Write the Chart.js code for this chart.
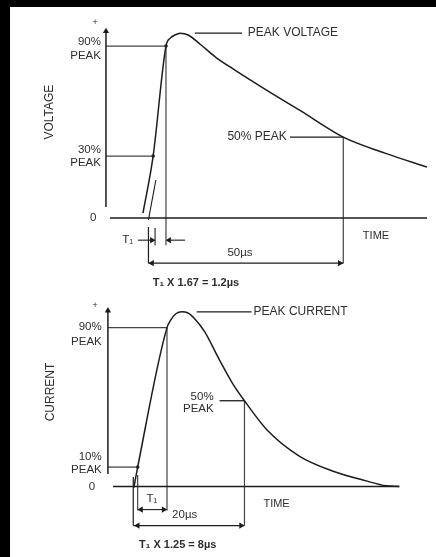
<!DOCTYPE html>
<html>
<head>
<meta charset="utf-8">
<script src="https://cdn.jsdelivr.net/npm/chart.js@4.4.1/dist/chart.umd.min.js"></script>
<style>
html, body { margin: 0; padding: 0; background: #000; }
#sheet { position: absolute; left: 10px; top: 7px; width: 426px; height: 550px; background: #fff; }
#volt { position: absolute; left: 0; top: 0; }
#curr { position: absolute; left: 0; top: 290px; }
</style>
</head>
<body>
<div id="sheet"></div>
<canvas id="volt" width="436" height="292"></canvas>
<canvas id="curr" width="436" height="267"></canvas>
<script>
// voltage surge (1.2/50us), time in us, level in % of drawn peak
const voltTime  = [-1.4, 1.2, 4.5, 5.6, 6.8, 8.1, 10.2, 13.2, 17.2, 21.9, 30.4, 38.9, 50.0, 60.7, 71.5];
const voltLevel = [2.7, 33.7, 93.5, 97.8, 99.5, 100.5, 99.5, 94.6, 87.5, 80.8, 69.4, 58.5, 44.0, 35.3, 27.7];
const voltMarkNames  = ['90%', '30%', '50%'];
const voltMarkTimes  = [4.5, 1.2, 50];
const voltMarkLevels = [93.5, 33.7, 44];

// current surge (8/20us)
const currTime  = [0.1, 0.8, 6.1, 6.8, 7.7, 8.8, 9.8, 11.1, 12.9, 15.6, 17.8, 20.1, 24.1, 30.0, 36.0, 42.1, 45.7, 48.1];
const currLevel = [-0.7, 11.1, 90.8, 95.2, 98.7, 99.8, 99.3, 95.9, 88.5, 72.2, 59.7, 49.0, 32.6, 17.4, 8.9, 3.2, 0.4, 0];
const currMarkNames  = ['90%', '10%', '50%'];
const currMarkTimes  = [6.1, 0.8, 20.1];
const currMarkLevels = [90.8, 11.1, 49];

const ink = '#1c1c1c';
const textInk = '#2e2e2e';
const FONT = '"Liberation Sans", Arial, "DejaVu Sans", sans-serif';

function seg(xs, ys, w, col) {
  return {
    type: 'line',
    data: xs.map((x, i) => ({ x: x, y: ys[i] })),
    borderColor: col || ink, borderWidth: w || 1.2,
    pointRadius: 0, fill: false, tension: 0
  };
}
function arrow(x, y, rot) {
  return {
    type: 'line', showLine: false,
    data: [{ x: x, y: y }],
    pointStyle: 'triangle', pointRotation: rot, pointRadius: 3.6,
    pointBackgroundColor: ink, pointBorderColor: ink, pointBorderWidth: 0
  };
}
function dots(xs, ys) {
  return {
    type: 'line', showLine: false,
    data: xs.map((x, i) => ({ x: x, y: ys[i] })),
    pointRadius: 1.8, pointBackgroundColor: ink, pointBorderWidth: 0
  };
}
function curve(xs, ys) {
  return {
    type: 'line',
    data: xs.map((x, i) => ({ x: x, y: ys[i] })),
    borderColor: ink, borderWidth: 1.5, pointRadius: 0, fill: false,
    cubicInterpolationMode: 'monotone'
  };
}

function notes(items) {
  return {
    id: 'notes',
    afterDatasetsDraw(chart) {
      const ctx = chart.ctx, xs = chart.scales.x, ys = chart.scales.y;
      ctx.save();
      ctx.fillStyle = textInk;
      ctx.textBaseline = 'middle';
      items.forEach(n => {
        ctx.font = (n.bold ? 'bold ' : '') + (n.size || 11.5) + 'px ' + FONT;
        ctx.textAlign = n.align || 'left';
        const px = xs.getPixelForValue(n.t), py = ys.getPixelForValue(n.v);
        if (n.rot) {
          ctx.save();
          ctx.translate(px, py);
          ctx.rotate(-Math.PI / 2);
          ctx.textAlign = 'center';
          ctx.fillText(n.text, 0, 0);
          ctx.restore();
        } else {
          ctx.fillText(n.text, px, py);
        }
      });
      ctx.restore();
    }
  };
}

function build(id, datasets, xr, yr, pad, items) {
  return new Chart(document.getElementById(id), {
    type: 'line',
    data: { datasets: datasets },
    options: {
      responsive: false,
      animation: false,
      layout: { padding: pad },
      scales: {
        x: { type: 'linear', min: xr[0], max: xr[1], display: false },
        y: { type: 'linear', min: yr[0], max: yr[1], display: false }
      },
      plugins: { legend: { display: false }, tooltip: { enabled: false } }
    },
    plugins: [notes(items)]
  });
}

// ---- voltage ----
const vAx = -10.9;
const vPeak = Math.max(...voltLevel);
const vDim = -24.5;
build('volt', [
  seg([vAx, vAx], [6, 102], 1.5),
  arrow(vAx, 101.5, 0),
  seg([-9.9, 71.5], [0, 0], 1.5),
  curve(voltTime, voltLevel),
  seg([vAx, voltMarkTimes[0]], [voltMarkLevels[0], voltMarkLevels[0]], 1.3, '#444'),
  seg([vAx, voltMarkTimes[1]], [voltMarkLevels[1], voltMarkLevels[1]], 1.3, '#444'),
  seg([36.3, voltMarkTimes[2]], [voltMarkLevels[2], voltMarkLevels[2]], 1.3),
  seg([11.9, 24.0], [vPeak, vPeak], 1.3),
  seg([voltMarkTimes[0], voltMarkTimes[0]], [voltMarkLevels[0], -14.7], 1.2, '#444'),
  seg([voltMarkTimes[2], voltMarkTimes[2]], [voltMarkLevels[2], vDim], 1.2, '#444'),
  seg([0, 0], [-4.9, vDim], 1.2),
  seg([0, 50], [vDim, vDim], 1.2),
  arrow(0.9, vDim, -90),
  arrow(49.1, vDim, 90),
  seg([1.7, 1.7], [-5.4, -14.7], 1.1),
  seg([-2.7, 1.0], [-12, -12], 1.1),
  arrow(0.9, -12, 90),
  seg([9.4, 5.3], [-12, -12], 1.1),
  arrow(5.3, -12, -90),
  seg([0, 1.9], [-1, 20.7], 1.1),
  dots([voltMarkTimes[0], voltMarkTimes[1]], [voltMarkLevels[0], voltMarkLevels[1]])
], [-15, 72], [-38, 112], { left: 90, right: 7, top: 12, bottom: 4 }, [
  { t: -13.7, v: 106.5, text: '+', align: 'center', size: 9 },
  { t: -12.2, v: 95.7, text: voltMarkNames[0], align: 'right' },
  { t: -12.2, v: 88, text: 'PEAK', align: 'right' },
  { t: -12.2, v: 37, text: voltMarkNames[1], align: 'right' },
  { t: -12.2, v: 29.9, text: 'PEAK', align: 'right' },
  { t: -14.2, v: 0, text: '0', align: 'center' },
  { t: -25.3, v: 57.6, text: 'VOLTAGE', rot: true, size: 12 },
  { t: 25.5, v: vPeak, text: 'PEAK VOLTAGE', size: 12 },
  { t: 35.5, v: 44, text: voltMarkNames[2] + ' PEAK', align: 'right', size: 12 },
  { t: -3.9, v: -12, text: 'T₁', align: 'right' },
  { t: 23.5, v: -19, text: '50µs', align: 'center' },
  { t: 58.4, v: -9.8, text: 'TIME', align: 'center', size: 11 },
  { t: 12.2, v: -35.3, text: 'T₁ X 1.67 = 1.2µs', align: 'center', bold: true, size: 11 }
]);

// ---- current ----
const cAx = -4.58;
const cPeak = Math.max(...currLevel);
const cDim = -22.3;
build('curr', [
  seg([cAx, cAx], [7.2, 100.5], 1.5),
  arrow(cAx, 100.5, 0),
  seg([-3.67, 48.06], [0, 0], 1.5),
  curve(currTime, currLevel),
  seg([cAx, currMarkTimes[0]], [currMarkLevels[0], currMarkLevels[0]], 1.3, '#444'),
  seg([cAx, currMarkTimes[1]], [currMarkLevels[1], currMarkLevels[1]], 1.3, '#444'),
  seg([15.6, currMarkTimes[2]], [currMarkLevels[2], currMarkLevels[2]], 1.3),
  seg([11.47, 21.38], [cPeak, cPeak], 1.3),
  seg([currMarkTimes[0], currMarkTimes[0]], [currMarkLevels[0], -13.7], 1.2, '#444'),
  seg([currMarkTimes[1], currMarkTimes[1]], [6.6, -13.7], 1.2, '#444'),
  seg([currMarkTimes[1], currMarkTimes[0]], [-13.2, -13.2], 1.1),
  arrow(currMarkTimes[1] + 0.6, -13.2, -90),
  arrow(currMarkTimes[0] - 0.6, -13.2, 90),
  seg([currMarkTimes[2], currMarkTimes[2]], [currMarkLevels[2], cDim], 1.2, '#444'),
  seg([0, 0], [5.5, cDim], 1.2),
  seg([0, currMarkTimes[2]], [cDim, cDim], 1.2),
  arrow(0.8, cDim, -90),
  arrow(currMarkTimes[2] - 0.6, cDim, 90),
  dots([currMarkTimes[1]], [currMarkLevels[1]])
], [-8, 54], [-38, 110], { left: 89, right: 3, top: 3, bottom: 2 }, [
  { t: -6.9, v: 103.2, text: '+', align: 'center', size: 9 },
  { t: -5.7, v: 91.4, text: currMarkNames[0], align: 'right' },
  { t: -5.7, v: 82.9, text: 'PEAK', align: 'right' },
  { t: -5.7, v: 16.8, text: currMarkNames[1], align: 'right' },
  { t: -5.7, v: 9.4, text: 'PEAK', align: 'right' },
  { t: -7.46, v: 0, text: '0', align: 'center' },
  { t: -15.0, v: 54, text: 'CURRENT', rot: true, size: 12 },
  { t: 21.74, v: cPeak, text: 'PEAK CURRENT', size: 12 },
  { t: 14.53, v: 51.2, text: currMarkNames[2], align: 'right' },
  { t: 14.53, v: 44.5, text: 'PEAK', align: 'right' },
  { t: 3.36, v: -6.9, text: 'T₁', align: 'center' },
  { t: 9.3, v: -16, text: '20µs', align: 'center' },
  { t: 25.9, v: -9.8, text: 'TIME', align: 'center', size: 11 },
  { t: 8.04, v: -33.6, text: 'T₁ X 1.25 = 8µs', align: 'center', bold: true, size: 11 }
]);
</script>
</body>
</html>
